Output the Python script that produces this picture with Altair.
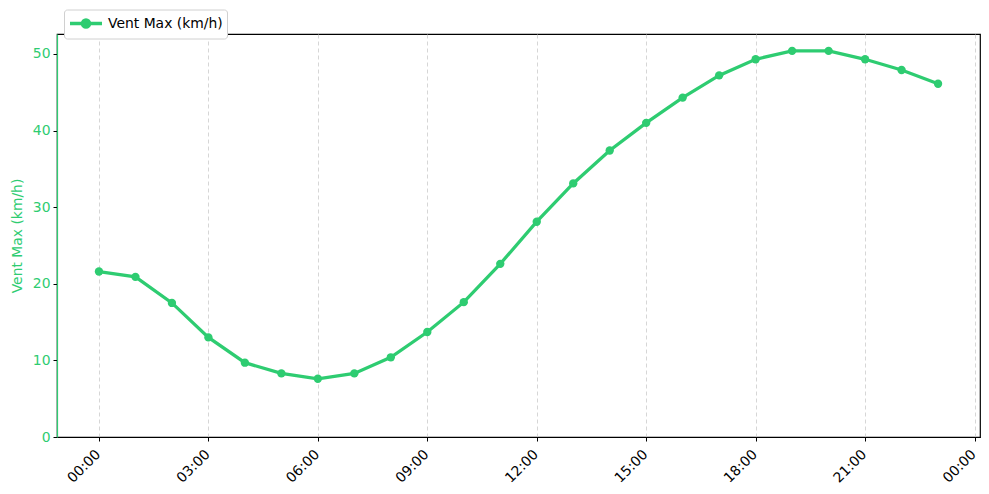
import altair as alt
import pandas as pd

times = ["00:00", "01:00", "02:00", "03:00", "04:00", "05:00", "06:00", "07:00",
         "08:00", "09:00", "10:00", "11:00", "12:00", "13:00", "14:00", "15:00",
         "16:00", "17:00", "18:00", "19:00", "20:00", "21:00", "22:00", "23:00"]
wind_max = [21.6, 20.9, 17.5, 13.0, 9.7, 8.3, 7.6, 8.3, 10.4, 13.7, 17.6, 22.6,
            28.1, 33.1, 37.4, 41.0, 44.3, 47.2, 49.3, 50.4, 50.4, 49.3, 47.9, 46.1]
series_name = "Vent Max (km/h)"
tick_hours = [0, 3, 6, 9, 12, 15, 18, 21, 24]
y_ticks = [0, 10, 20, 30, 40, 50]

GREEN = "#2ecc71"
FONT = "DejaVu Sans"
FS = 13.9

df = pd.DataFrame({
    "hour": [int(t[:2]) for t in times],
    "time": times,
    "value": wind_max,
    "series": [series_name] * len(times),
})

label_expr = "(datum.value % 24 < 10 ? '0' : '') + (datum.value % 24) + ':00'"

x_enc = alt.X(
    "hour:Q",
    scale=alt.Scale(domain=[-1.15, 24.15], nice=False, zero=False),
    axis=alt.Axis(
        values=tick_hours, labelExpr=label_expr, title=None,
        labelAngle=-45, labelAlign="right", labelBaseline="top",
        labelOffset=-6, labelPadding=6,
        grid=True, gridDash=[4, 3], gridColor="#cccccc", gridWidth=0.8,
        domainColor="black", domainWidth=1.2, tickColor="black", tickSize=4,
        labelColor="black", labelFontSize=FS, labelFont=FONT,
        labelOverlap=False, labelBound=False,
    ),
)
y_enc = alt.Y(
    "value:Q",
    scale=alt.Scale(domain=[0, 52.6], nice=False),
    axis=alt.Axis(
        values=y_ticks, title="Vent Max (km/h)", titleColor=GREEN,
        titleFont=FONT, titleFontSize=FS, titleFontWeight="normal", titlePadding=8,
        grid=False, domainColor=GREEN, domainWidth=1.2, tickColor="black", tickSize=4,
        labelColor=GREEN, labelFontSize=FS, labelFont=FONT, labelPadding=3,
    ),
)
color_scale = alt.Scale(domain=[series_name], range=[GREEN])
color_enc = alt.Color(
    "series:N",
    scale=color_scale,
    legend=alt.Legend(
        title=None, orient="none", legendX=7, legendY=-24.5,
        symbolType="M-1,0L3,0M0.55,0A0.45,0.45,0,1,1,1.45,0A0.45,0.45,0,1,1,0.55,0Z",
        symbolSize=256, symbolStrokeWidth=3.3, symbolFillColor=GREEN,
        symbolStrokeColor=GREEN,
        labelFont=FONT, labelFontSize=FS, labelColor="black",
        fillColor="white", strokeColor="#d0d0d0", cornerRadius=3,
        padding=4, labelOffset=20,
    ),
)

base = alt.Chart(df)
line = base.mark_line(strokeWidth=3.3).encode(x=x_enc, y=y_enc, color=color_enc)
points = base.mark_point(filled=True, size=70, opacity=1).encode(
    x="hour:Q", y="value:Q",
    color=alt.Color("series:N", legend=None, scale=color_scale),
)

chart = (
    alt.layer(line, points)
    .properties(
        width=923, height=403, autosize="none",
        padding={"left": 49, "top": 26, "right": 1, "bottom": 49},
    )
    .configure_view(stroke="black", strokeWidth=1.2)
)

chart.save("out.html", embed_options={"renderer": "svg", "actions": False})
